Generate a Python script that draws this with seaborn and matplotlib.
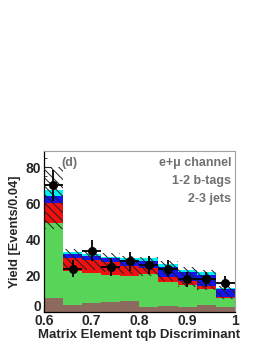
import numpy as np
import pandas as pd
import matplotlib
matplotlib.use("Agg")
import matplotlib.pyplot as plt
import matplotlib.transforms as mtransforms
import seaborn as sns

# bins of the ME discriminant
edges = np.round(np.arange(0.6, 1.0001, 0.04), 2)
centers = (edges[:-1] + edges[1:]) / 2

# stacked backgrounds, per-bin yield
brown = [8.0, 3.9, 4.8, 5.3, 6.2, 2.8, 3.5, 2.9, 3.9, 2.9]
green = [41.0, 18.7, 16.5, 15.1, 13.6, 18.0, 13.2, 12.0, 8.6, 4.6]
red   = [11.5, 7.0, 7.3, 7.0, 5.7, 3.8, 2.8, 2.4, 1.8, 0.6]
blue  = [3.5, 2.2, 2.2, 2.2, 3.1, 3.7, 5.5, 4.6, 6.1, 4.7]
cyan  = [3.5, 1.1, 1.0, 0.9, 1.0, 1.3, 1.3, 1.2, 1.5, 0.6]

# uncertainty band
band_lo = [46, 24, 23, 22, 21, 20, 17, 14, 12, 7]
band_hi = [80, 35, 34, 32.5, 31, 30.5, 28, 25, 23, 14.5]

# observed data
data = [70, 24, 34, 25, 28, 26, 24, 18, 18, 16]

comps = {"cyan": cyan, "blue": blue, "red": red, "green": green, "brown": brown}
colors = {"cyan": "#00f0f0", "blue": "#1414ee", "red": "#f01010",
          "green": "#58d458", "brown": "#8c6a5e"}

rows = []
for name, vals in comps.items():
    for c, v in zip(centers, vals):
        rows.append({"x": c, "y": v, "comp": name})
df = pd.DataFrame(rows)

sns.set_style("ticks")
plt.rcParams['font.family'] = ['Liberation Sans', 'DejaVu Sans']
plt.rcParams['font.weight'] = 'bold'
plt.rcParams['hatch.linewidth'] = 0.7

fig = plt.figure(figsize=(2.66, 3.44), dpi=100)
ax = fig.add_axes([0.165, 0.093, 0.718, 0.468])

sns.histplot(data=df, x="x", weights="y", hue="comp", binwidth=0.04,
             binrange=(0.6, 1.0), multiple="stack",
             hue_order=list(comps.keys()), palette=colors,
             element="bars", linewidth=0, alpha=1, legend=False, ax=ax)

lo = np.array(band_lo)
hi = np.array(band_hi)
ax.bar(centers, hi - lo, bottom=lo, width=0.04, fill=False, hatch="\\\\\\\\",
       edgecolor="#202020", linewidth=0, zorder=3)

d = np.array(data)
ax.errorbar(centers, d, xerr=0.02, yerr=np.sqrt(d), fmt="o", color="black",
            ms=5.5, elinewidth=1.3, capsize=0, zorder=4)

ax.set_xlim(0.6, 1.0)
ax.set_ylim(0, 89)
ax.set_xticks([0.6, 0.7, 0.8, 0.9, 1.0])
ax.set_xticklabels(["0.6", "0.7", "0.8", "0.9", "1"])
ax.set_yticks([0, 20, 40, 60, 80])
ax.set_xticks(np.arange(0.6, 1.001, 0.02), minor=True)
ax.set_yticks(np.arange(0, 89, 5), minor=True)
ax.tick_params(direction="in", labelsize=10, length=5, width=0.8, pad=2)
ax.tick_params(which="minor", direction="in", length=2.5, width=0.6)
ax.tick_params(axis="x", pad=1.5)

# nudge the y "0" up a little so it clears the "0.6" below
ylab0 = ax.get_yticklabels()[0]
ylab0.set_transform(ylab0.get_transform() +
                    mtransforms.ScaledTranslation(0, 4.5 / 72, fig.dpi_scale_trans))

for s in ["top", "right"]:
    ax.spines[s].set_visible(True)
    ax.spines[s].set_color("#a0a0a0")
for s in ["left", "bottom"]:
    ax.spines[s].set_color("black")
    ax.spines[s].set_linewidth(0.9)

ax.set_xlabel("Matrix Element tqb Discriminant", fontsize=9.5, fontweight="bold", labelpad=1)
ax.set_ylabel("Yield [Events/0.04]", fontsize=9.2, fontweight="bold", labelpad=3)

gray = "#707070"
ax.text(0.09, 0.96, "(d)", transform=ax.transAxes, color=gray, fontsize=9,
        fontweight="bold", va="top")
ax.text(0.98, 0.96, "e+\u03bc channel", transform=ax.transAxes, color=gray,
        fontsize=9, fontweight="bold", va="top", ha="right")
ax.text(0.98, 0.85, "1-2 b-tags", transform=ax.transAxes, color=gray,
        fontsize=9, fontweight="bold", va="top", ha="right")
ax.text(0.98, 0.74, "2-3 jets", transform=ax.transAxes, color=gray,
        fontsize=9, fontweight="bold", va="top", ha="right")

fig.savefig("out.png", dpi=100)
